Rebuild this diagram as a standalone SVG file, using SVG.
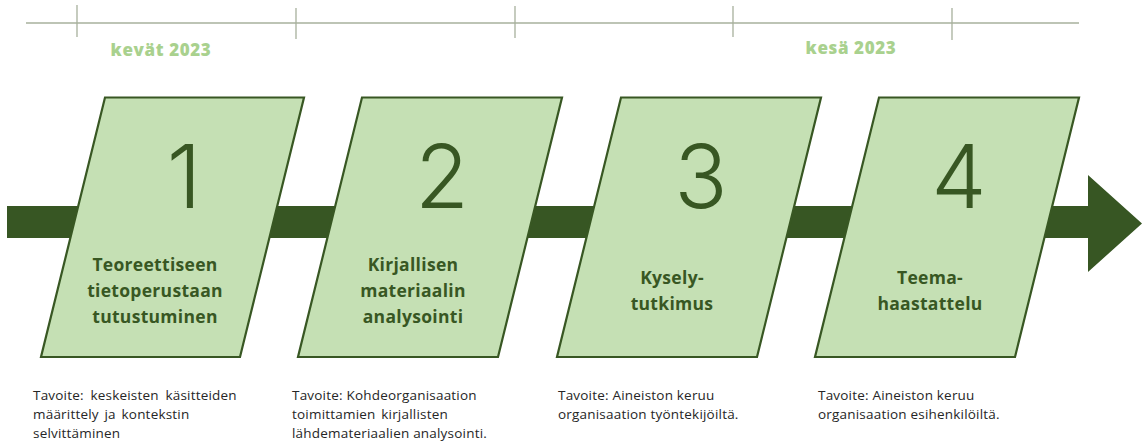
<svg xmlns="http://www.w3.org/2000/svg" width="1142" height="445" viewBox="0 0 1142 445">
  <style>
    .tl { stroke: #a7b09c; stroke-width: 1.3; fill: none; }
    .season { font-family: "Open Sans", "Liberation Sans", sans-serif; font-weight: 800; font-size: 17px; letter-spacing: 0.6px; fill: #a9d18e; text-anchor: middle; }
    .step { fill: #c5e0b4; stroke: #385723; stroke-width: 2.2; stroke-linejoin: miter; }
    .num { font-family: "Inter", "Noto Sans", sans-serif; font-weight: 300; font-size: 88px; fill: #385723; text-anchor: middle; }
    .label { font-family: "Open Sans", "Liberation Sans", sans-serif; font-weight: 700; font-size: 17.5px; letter-spacing: 0.3px; fill: #385723; text-anchor: middle; }
    .desc { font-family: "Open Sans", "Liberation Sans", sans-serif; font-size: 13.5px; letter-spacing: 0.2px; fill: #262626; }
    .arrow { fill: #375623; }
  </style>

  <g id="timeline">
    <line class="tl" x1="26" y1="23" x2="1079" y2="23"/>
    <line class="tl" x1="77" y1="5" x2="77" y2="37"/>
    <line class="tl" x1="296" y1="8" x2="296" y2="39"/>
    <line class="tl" x1="515" y1="6" x2="515" y2="38"/>
    <line class="tl" x1="733" y1="6" x2="733" y2="37"/>
    <line class="tl" x1="952" y1="8" x2="952" y2="40"/>
    <text class="season" x="161" y="56">kevät 2023</text>
    <text class="season" x="851" y="54">kesä 2023</text>
  </g>

  <g id="connectors">
    <path class="arrow" d="M7,206 L1088,206 L1088,175 L1142,223.5 L1088,272 L1088,238 L7,238 Z"/>
  </g>

  <g id="step1">
    <polygon class="step" points="105,97.5 304,97.5 240,357 41,357"/>
    <text class="num" x="184" y="208">1</text>
    <text class="label" x="155" y="271">Teoreettiseen</text>
    <text class="label" x="155" y="297">tietoperustaan</text>
    <text class="label" x="155" y="323">tutustuminen</text>
  </g>

  <g id="step2">
    <polygon class="step" points="362,97.5 562,97.5 498,357 298,357"/>
    <text class="num" x="442" y="208">2</text>
    <text class="label" x="413" y="271">Kirjallisen</text>
    <text class="label" x="413" y="297">materiaalin</text>
    <text class="label" x="413" y="323">analysointi</text>
  </g>

  <g id="step3">
    <polygon class="step" points="621,97.5 821,97.5 757,357 557,357"/>
    <text class="num" x="701" y="208">3</text>
    <text class="label" x="672" y="284">Kysely-</text>
    <text class="label" x="672" y="310">tutkimus</text>
  </g>

  <g id="step4">
    <polygon class="step" points="879,97.5 1079,97.5 1015,357 815,357"/>
    <text class="num" x="959" y="208">4</text>
    <text class="label" x="930" y="284">Teema-</text>
    <text class="label" x="930" y="310">haastattelu</text>
  </g>

  <g id="descriptions">
    <text class="desc" x="33" y="400" word-spacing="3">Tavoite: keskeisten käsitteiden</text>
    <text class="desc" x="33" y="419" word-spacing="2">määrittely ja kontekstin</text>
    <text class="desc" x="33" y="438">selvittäminen</text>
    <text class="desc" x="292" y="400">Tavoite: Kohdeorganisaation</text>
    <text class="desc" x="292" y="419" word-spacing="2">toimittamien kirjallisten</text>
    <text class="desc" x="292" y="438">lähdemateriaalien analysointi.</text>
    <text class="desc" x="558" y="400">Tavoite: Aineiston keruu</text>
    <text class="desc" x="558" y="419">organisaation työntekijöiltä.</text>
    <text class="desc" x="818" y="400">Tavoite: Aineiston keruu</text>
    <text class="desc" x="818" y="419">organisaation esihenkilöiltä.</text>
  </g>
</svg>
